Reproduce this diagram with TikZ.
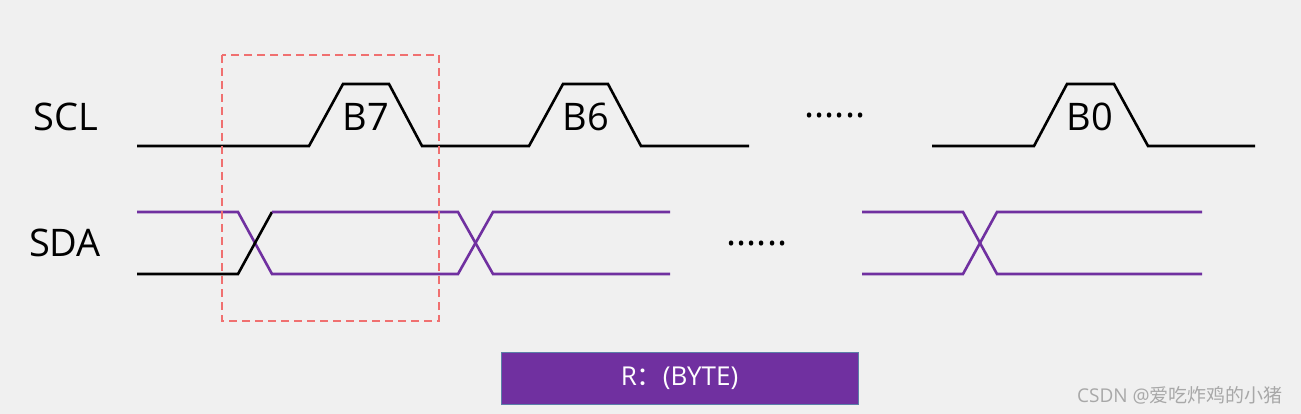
\documentclass[tikz,border=0pt]{standalone}
\usepackage{fontspec}
\setmainfont{Open Sans}
\newfontfamily\cjk{Noto Sans CJK SC}
\definecolor{bg}{HTML}{F0F0F0}
\definecolor{sdapurple}{HTML}{7030A0}
\definecolor{boxborder}{HTML}{5B7FA8}
\definecolor{redbox}{HTML}{F07070}
\definecolor{wm}{HTML}{A8A8A8}
\begin{document}
\begin{tikzpicture}[x=1pt,y=-1pt,
  sig/.style={line width=2.6pt, line join=miter},
  sclline/.style={sig, black},
  sdaline/.style={sig, sdapurple},
  biglabel/.style={inner sep=0pt, font=\fontsize{38}{40}\selectfont, text=black},
  dots/.style={inner sep=0pt, font=\fontsize{38}{40}\selectfont, text=black},
  bytebox/.style={draw=boxborder, line width=0.8pt, fill=sdapurple, text=white,
    minimum width=357pt, minimum height=52pt, inner sep=0pt,
    font=\fontsize{26}{28}\selectfont},
  mark box/.style={draw=redbox, line width=1.6pt, dash pattern=on 8pt off 5pt}
]
\useasboundingbox[fill=bg] (0,0) rectangle (1301,414);

% labels
\node[biglabel] (scl) at (65.5,117) {SCL};
\node[biglabel] (sda) at (65,243) {SDA};

% SCL waveform
\draw[sclline] (137,146) -- (309,146) -- (343,84) -- (389,84) -- (422,146)
  -- (529,146) -- (563,84) -- (608,84) -- (641,146) -- (749,146);
\draw[sclline] (932,146) -- (1034,146) -- (1067,84) -- (1114,84) -- (1148,146) -- (1255,146);
\node[biglabel] (b7) at (366,117) {B7};
\node[biglabel] (b6) at (586,117) {B6};
\node[biglabel] (b0) at (1090,117) {B0};
\node[dots, anchor=base] (dscl) at (835,118) {......};

% SDA waveform
\draw[sdaline] (137,212) -- (238,212) -- (272,274) -- (458,274) -- (493,212) -- (670,212);
\draw[sclline] (137,274) -- (238,274) -- (272,212);
\draw[sdaline] (272,212) -- (458,212) -- (493,274) -- (670,274);
\node[dots, anchor=base] (dsda) at (757,246) {......};
\draw[sdaline] (862,212) -- (963,212) -- (997,274) -- (1202,274);
\draw[sdaline] (862,274) -- (963,274) -- (997,212) -- (1202,212);

% highlight box
\draw[mark box] (222,55) rectangle (439,321);

% byte box
\node[bytebox] (byte) at (679.5,378) {R{\cjk ：}(BYTE)};

% watermark
\node[inner sep=0pt, text=wm, font=\fontsize{19}{21}\selectfont] (wmk) at (1180,395) {CSDN @{\cjk 爱吃炸鸡的小猪}};
\end{tikzpicture}
\end{document}
